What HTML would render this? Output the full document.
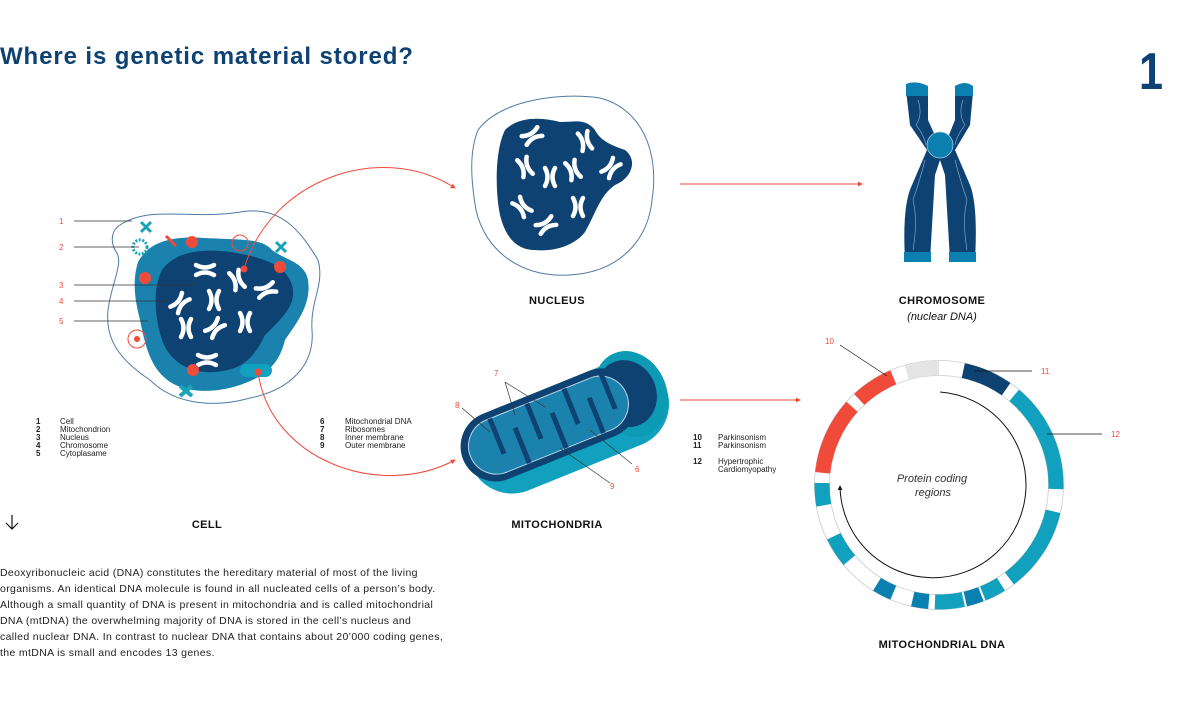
<!DOCTYPE html>
<html><head><meta charset="utf-8"><style>
body{margin:0;width:1200px;height:720px;background:#fff;overflow:hidden;font-family:"Liberation Sans",sans-serif;}
svg{position:absolute;left:0;top:0}
.t{font-family:"Liberation Sans",sans-serif}
</style></head><body>
<svg width="1200" height="720" viewBox="0 0 1200 720">
<defs>
<g id="ch"><path d="M-5,-9 Q0,0 -5,9 M5,-9 Q0,0 5,9" stroke="#fff" stroke-width="4.5" fill="none" stroke-linecap="round"/></g>
<marker id="ar" viewBox="0 0 6 6" refX="5" refY="3" markerWidth="5" markerHeight="5" orient="auto"><path d="M0,0L6,3L0,6z" fill="#f04a3a"/></marker>
<marker id="ak" viewBox="0 0 6 6" refX="5" refY="3" markerWidth="5" markerHeight="5" orient="auto"><path d="M0,0L6,3L0,6z" fill="#111"/></marker>
</defs>
<text x="0" y="64" class="t" font-size="24" font-weight="bold" fill="#0d4273" letter-spacing="0.9">Where is genetic material stored?</text>
<text x="1139" y="89" class="t" font-size="52" font-weight="bold" fill="#0d4273" textLength="24" lengthAdjust="spacingAndGlyphs">1</text>

<!-- CELL -->
<path d="M120,225 C150,205 190,220 240,212 C280,205 300,230 318,260 C325,285 310,300 312,330 C315,365 290,390 250,398 C215,408 175,405 150,380 C120,360 105,340 108,310 C112,280 125,262 115,250 C110,240 112,230 120,225Z" fill="none" stroke="#4f7aa6" stroke-width="1"/>
<path d="M138,262 C150,240 175,236 205,238 C240,240 262,238 272,250 C285,260 305,262 308,280 C312,305 295,325 285,340 C280,360 270,375 240,385 C210,395 180,392 165,378 C150,365 145,345 140,320 C135,300 132,282 138,262Z" fill="#1b82ad"/>
<path d="M162,270 C175,252 200,248 230,252 C255,256 285,262 292,285 C298,305 280,320 265,335 C255,355 245,370 215,372 C190,374 170,362 162,340 C155,318 152,290 162,270Z" fill="#0d4273"/>
<use href="#ch" transform="translate(205,270) rotate(90)"/><use href="#ch" transform="translate(237,280) rotate(-20)"/><use href="#ch" transform="translate(266,290) rotate(70)"/>
<use href="#ch" transform="translate(180,303) rotate(40)"/><use href="#ch" transform="translate(214,300)"/><use href="#ch" transform="translate(186,328)"/>
<use href="#ch" transform="translate(215,328) rotate(45)"/><use href="#ch" transform="translate(245,322)"/><use href="#ch" transform="translate(207,360) rotate(90)"/>
<rect x="240" y="364" width="32" height="13" rx="6.5" fill="#11a0bd"/>
<circle cx="258" cy="372" r="3.5" fill="#f04a3a"/><circle cx="244" cy="269" r="3.5" fill="#f04a3a"/>
<circle cx="140" cy="247" r="7" fill="none" stroke="#19a3b8" stroke-width="3" stroke-dasharray="2 1.5"/>
<circle cx="193" cy="370" r="6" fill="#f04a3a"/><circle cx="145" cy="278" r="6" fill="#f04a3a"/><circle cx="280" cy="267" r="6" fill="#f04a3a"/><circle cx="192" cy="242" r="6" fill="#f04a3a"/>
<circle cx="240" cy="243" r="8" fill="none" stroke="#f04a3a"/><circle cx="137" cy="339" r="9" fill="none" stroke="#f04a3a"/><circle cx="137" cy="339" r="3" fill="#f04a3a"/>
<path d="M141,222 l10,10 M151,222 l-10,10" stroke="#19a3b8" stroke-width="3"/><path d="M276,242 l10,10 M286,242 l-10,10" stroke="#19a3b8" stroke-width="3"/>
<path d="M180,386 l12,10 M192,386 l-12,10" stroke="#19a3b8" stroke-width="4"/>
<path d="M166,236 q5,5 10,10" stroke="#f04a3a" stroke-width="3"/>
<g stroke="#333" stroke-width="0.7"><line x1="74" y1="221" x2="132" y2="221"/><line x1="74" y1="247" x2="139" y2="247"/><line x1="74" y1="285" x2="195" y2="285"/><line x1="74" y1="301" x2="170" y2="301"/><line x1="74" y1="321" x2="148" y2="321"/></g>
<g class="t" font-size="8" fill="#f04a3a"><text x="59" y="224">1</text><text x="59" y="250">2</text><text x="59" y="288">3</text><text x="59" y="304">4</text><text x="59" y="324">5</text></g>
<g class="t" font-size="8" fill="#222"><text x="36" y="424" font-weight="bold">1</text><text x="36" y="432" font-weight="bold">2</text><text x="36" y="440" font-weight="bold">3</text><text x="36" y="448" font-weight="bold">4</text><text x="36" y="456" font-weight="bold">5</text>
<text x="60" y="424">Cell</text><text x="60" y="432">Mitochondrion</text><text x="60" y="440">Nucleus</text><text x="60" y="448">Chromosome</text><text x="60" y="456">Cytoplasame</text>
<text x="320" y="424" font-weight="bold">6</text><text x="320" y="432" font-weight="bold">7</text><text x="320" y="440" font-weight="bold">8</text><text x="320" y="448" font-weight="bold">9</text>
<text x="345" y="424">Mitochondrial DNA</text><text x="345" y="432">Ribosomes</text><text x="345" y="440">Inner membrane</text><text x="345" y="448">Outer membrane</text>
<text x="693" y="440" font-weight="bold">10</text><text x="693" y="448" font-weight="bold">11</text><text x="693" y="464" font-weight="bold">12</text>
<text x="718" y="440">Parkinsonism</text><text x="718" y="448">Parkinsonism</text><text x="718" y="464">Hypertrophic</text><text x="718" y="472">Cardiomyopathy</text></g>

<!-- connectors -->
<path d="M244,269 C270,180 380,140 455,188" fill="none" stroke="#f04a3a" stroke-width="1" marker-end="url(#ar)"/>
<path d="M258,372 C270,460 380,500 455,460" fill="none" stroke="#f04a3a" stroke-width="1" marker-end="url(#ar)"/>
<line x1="680" y1="184" x2="862" y2="184" stroke="#f04a3a" stroke-width="1" marker-end="url(#ar)"/>
<line x1="680" y1="400" x2="800" y2="400" stroke="#f04a3a" stroke-width="1" marker-end="url(#ar)"/>

<!-- NUCLEUS -->
<path d="M478,130 C500,100 560,92 600,98 C640,108 660,150 652,200 C648,240 620,272 570,275 C520,278 485,250 476,210 C470,175 470,150 478,130Z" fill="none" stroke="#4f7aa6" stroke-width="1"/>
<path d="M505,130 C520,115 545,118 560,122 C575,122 585,118 595,130 C600,140 610,145 625,150 C638,160 632,178 615,185 C600,195 595,215 585,232 C575,245 555,252 535,250 C515,250 505,235 500,215 C495,190 495,150 505,130Z" fill="#0d4273"/>
<use href="#ch" transform="translate(532,136) rotate(60)"/><use href="#ch" transform="translate(585,141) rotate(-15)"/><use href="#ch" transform="translate(525,167) rotate(-20)"/>
<use href="#ch" transform="translate(550,177)"/><use href="#ch" transform="translate(573,170) rotate(-20)"/><use href="#ch" transform="translate(611,168) rotate(40)"/>
<use href="#ch" transform="translate(522,207) rotate(-40)"/><use href="#ch" transform="translate(546,225) rotate(60)"/><use href="#ch" transform="translate(578,207)"/>

<!-- CHROMOSOME -->
<path d="M906,90 Q906,84 916,84 Q928,84 928,92 L928,120 L937,140 L947,140 L955,120 L955,92 Q955,84 965,84 Q973,84 973,92 L970,125 L955,150 L970,185 Q978,205 975,260 L950,260 L945,175 L940,160 L935,175 L930,260 L905,260 Q902,205 912,185 L927,150 L910,125Z" fill="#0d4273"/>
<circle cx="940" cy="145" r="13" fill="#0b7fb0" stroke="#9ec8e0" stroke-width="0.8"/>
<path d="M906,84 Q916,80 928,86 L928,96 L906,96Z M955,86 Q965,80 973,86 L973,96 L955,96Z" fill="#0b7fb0"/>
<path d="M904,252 L931,252 L931,262 L904,262Z M949,252 L976,252 L976,262 L949,262Z" fill="#0b7fb0"/>
<path d="M918,100 q5,15 -2,25 q8,10 10,20 M963,100 q-5,15 2,25 q-8,10 -10,20 M925,160 q-5,20 -12,40 q5,20 0,50 M955,160 q5,20 12,40 q-5,20 0,50" fill="none" stroke="#8fb6d6" stroke-width="0.6"/>

<!-- MITOCHONDRIA -->
<g transform="translate(567,423) rotate(-22)">
<rect x="-105" y="-40" width="210" height="88" rx="44" fill="#11a0bd"/>
<ellipse cx="70" cy="-3" rx="36" ry="44" fill="#0d9ab5"/>
<rect x="-110" y="-40" width="185" height="70" rx="35" fill="#0d4273"/>
<ellipse cx="66" cy="-5" rx="30" ry="34" fill="#0d4273"/>
<rect x="-102" y="-33" width="168" height="56" rx="28" fill="#1b82ad" stroke="#bcd6ea" stroke-width="1"/>
<path d="M-70,-33 v38 M-50,23 v-38 M-30,-33 v38 M-10,23 v-38 M10,-33 v38 M30,23 v-38 M50,-33 v38" stroke="#0d4273" stroke-width="5"/>
</g>
<g stroke="#333" stroke-width="0.7" fill="none"><path d="M462,408 L490,432"/><path d="M505,382 L515,415 M505,382 L545,407"/><path d="M590,430 L632,464"/><path d="M560,448 L610,483"/></g>
<g class="t" font-size="8" fill="#f04a3a"><text x="455" y="408">8</text><text x="494" y="376">7</text><text x="635" y="472">6</text><text x="610" y="489">9</text>
<text x="825" y="344">10</text><text x="1041" y="374">11</text><text x="1111" y="437">12</text></g>

<!-- mtDNA ring -->
<g transform="translate(939,485) rotate(-90)" fill="none" stroke-width="15">
<circle r="117" stroke="#fff"/>
<circle r="124.5" stroke="#ccc" stroke-width="0.8"/><circle r="109.5" stroke="#ccc" stroke-width="0.8"/>
<circle r="117" pathLength="360" stroke="#e4e4e4" stroke-dasharray="16 344" stroke-dashoffset="16"/>
<circle r="117" pathLength="360" stroke="#0d4273" stroke-dasharray="23 337" stroke-dashoffset="-12"/>
<circle r="117" pathLength="360" stroke="#11a0bd" stroke-dasharray="52 308" stroke-dashoffset="-40"/>
<circle r="117" pathLength="360" stroke="#11a0bd" stroke-dasharray="40 320" stroke-dashoffset="-103"/>
<circle r="117" pathLength="360" stroke="#11a0bd" stroke-dasharray="10 350" stroke-dashoffset="-148"/>
<circle r="117" pathLength="360" stroke="#0b7fb0" stroke-dasharray="8 352" stroke-dashoffset="-159"/>
<circle r="117" pathLength="360" stroke="#11a0bd" stroke-dasharray="14 346" stroke-dashoffset="-168"/>
<circle r="117" pathLength="360" stroke="#0b7fb0" stroke-dasharray="8 352" stroke-dashoffset="-185"/>
<circle r="117" pathLength="360" stroke="#0b7fb0" stroke-dasharray="9 351" stroke-dashoffset="-203"/>
<circle r="117" pathLength="360" stroke="#11a0bd" stroke-dasharray="14 346" stroke-dashoffset="-230"/>
<circle r="117" pathLength="360" stroke="#11a0bd" stroke-dasharray="11 349" stroke-dashoffset="-260"/>
<circle r="117" pathLength="360" stroke="#f04a3a" stroke-dasharray="36 324" stroke-dashoffset="-276"/>
<circle r="117" pathLength="360" stroke="#f04a3a" stroke-dasharray="20 340" stroke-dashoffset="-317"/>
</g>
<path d="M940,392 A93,93 0 1 1 840,486" fill="none" stroke="#111" stroke-width="1" marker-end="url(#ak)"/>
<g stroke="#111" stroke-width="0.7"><line x1="840" y1="345" x2="887" y2="376"/><line x1="975" y1="371" x2="1032" y2="371"/><line x1="1047" y1="434" x2="1102" y2="434"/></g>
<text x="932" y="482" class="t" font-size="11" font-style="italic" fill="#333" text-anchor="middle">Protein coding</text>
<text x="933" y="496" class="t" font-size="11" font-style="italic" fill="#333" text-anchor="middle">regions</text>

<g class="t" font-size="11" font-weight="bold" fill="#111" text-anchor="middle" letter-spacing="0.4">
<text x="557" y="304">NUCLEUS</text><text x="942" y="304">CHROMOSOME</text><text x="207" y="528">CELL</text><text x="557" y="528">MITOCHONDRIA</text><text x="942" y="648">MITOCHONDRIAL DNA</text></g>
<text x="942" y="320" class="t" font-size="11" font-style="italic" fill="#111" text-anchor="middle">(nuclear DNA)</text>
<path d="M12,515 v14 M6,523 l6,6 l6,-6" stroke="#111" stroke-width="1.2" fill="none"/>
<g class="t" font-size="10.5" fill="#222" letter-spacing="0.35">
<text x="0" y="576">Deoxyribonucleic acid (DNA) constitutes the hereditary material of most of the living</text>
<text x="0" y="592">organisms. An identical DNA molecule is found in all nucleated cells of a person’s body.</text>
<text x="0" y="608">Although a small quantity of DNA is present in mitochondria and is called mitochondrial</text>
<text x="0" y="624">DNA (mtDNA) the overwhelming majority of DNA is stored in the cell’s nucleus and</text>
<text x="0" y="640">called nuclear DNA. In contrast to nuclear DNA that contains about 20’000 coding genes,</text>
<text x="0" y="656">the mtDNA is small and encodes 13 genes.</text></g>
</svg>
</body></html>
